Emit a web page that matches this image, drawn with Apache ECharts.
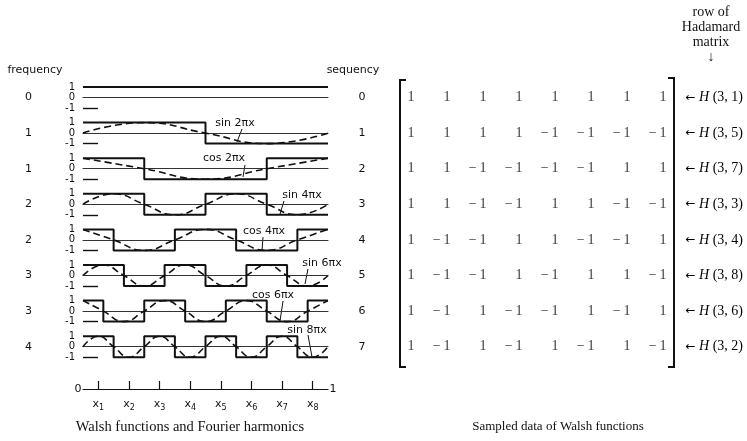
<!DOCTYPE html>
<html>
<head>
<meta charset="utf-8">
<script src="https://cdn.jsdelivr.net/npm/echarts@6/dist/echarts.min.js"></script>
<style>
html, body { margin: 0; padding: 0; background: #fff; }
#main { width: 747px; height: 441px; }
</style>
</head>
<body>
<div id="main"></div>
<script>
// row labels
var freqLabels = ['0', '1', '1', '2', '2', '3', '3', '4'];
var seqLabels = ['0', '1', '2', '3', '4', '5', '6', '7'];

// square waves: switch points and levels (last level repeated at x = 1)
var stepX = [
  [0, 1],
  [0, 0.5, 1],
  [0, 0.25, 0.75, 1],
  [0, 0.25, 0.5, 0.75, 1],
  [0, 0.125, 0.375, 0.625, 0.875, 1],
  [0, 0.167, 0.333, 0.5, 0.667, 0.833, 1],
  [0, 0.083, 0.25, 0.417, 0.583, 0.75, 0.917, 1],
  [0, 0.125, 0.25, 0.375, 0.5, 0.625, 0.75, 0.875, 1]
];
var stepY = [
  [1, 1],
  [1, -1, -1],
  [1, -1, 1, 1],
  [1, -1, 1, -1, -1],
  [1, -1, 1, -1, 1, 1],
  [1, -1, 1, -1, 1, -1, -1],
  [1, -1, 1, -1, 1, -1, 1, 1],
  [1, -1, 1, -1, 1, -1, 1, -1, -1]
];

// dashed harmonics, read at quarter periods
var waveX = [
  [],
  [0, 0.25, 0.5, 0.75, 1],
  [0, 0.25, 0.5, 0.75, 1],
  [0, 0.125, 0.25, 0.375, 0.5, 0.625, 0.75, 0.875, 1],
  [0, 0.125, 0.25, 0.375, 0.5, 0.625, 0.75, 0.875, 1],
  [0, 0.083, 0.167, 0.25, 0.333, 0.417, 0.5, 0.583, 0.667, 0.75, 0.833, 0.917, 1],
  [0, 0.083, 0.167, 0.25, 0.333, 0.417, 0.5, 0.583, 0.667, 0.75, 0.833, 0.917, 1],
  [0, 0.0625, 0.125, 0.1875, 0.25, 0.3125, 0.375, 0.4375, 0.5, 0.5625, 0.625, 0.6875, 0.75, 0.8125, 0.875, 0.9375, 1]
];
var waveY = [
  [],
  [0, 1, 0, -1, 0],
  [1, 0, -1, 0, 1],
  [0, 1, 0, -1, 0, 1, 0, -1, 0],
  [1, 0, -1, 0, 1, 0, -1, 0, 1],
  [0, 1, 0, -1, 0, 1, 0, -1, 0, 1, 0, -1, 0],
  [1, 0, -1, 0, 1, 0, -1, 0, 1, 0, -1, 0, 1],
  [0, 1, 0, -1, 0, 1, 0, -1, 0, 1, 0, -1, 0, 1, 0, -1, 0]
];

// sample points x1..x8
var sampleTicks = [0.0625, 0.1875, 0.3125, 0.4375, 0.5625, 0.6875, 0.8125, 0.9375];

// sampled data (rows of the Hadamard matrix, sequency order)
var hadamard = [
  [1, 1, 1, 1, 1, 1, 1, 1],
  [1, 1, 1, 1, -1, -1, -1, -1],
  [1, 1, -1, -1, -1, -1, 1, 1],
  [1, 1, -1, -1, 1, 1, -1, -1],
  [1, -1, -1, 1, 1, -1, -1, 1],
  [1, -1, -1, 1, -1, 1, 1, -1],
  [1, -1, 1, -1, -1, 1, -1, 1],
  [1, -1, 1, -1, 1, -1, 1, -1]
];
var hadamardRow = ['1', '5', '7', '3', '4', '8', '6', '2'];
var colNames = ['1', '2', '3', '4', '5', '6', '7', '8'];

var ink = '#111';
var sans = 'DejaVu Sans';
var serif = 'Liberation Serif';
var rowTop0 = 87, rowStep = 35.6, rowH = 21;

var grids = [], xAxes = [], yAxes = [], series = [];

for (var k = 0; k < 8; k++) {
  grids.push({ left: 83, width: 245, top: rowTop0 + k * rowStep, height: rowH });
  xAxes.push({
    type: 'value', gridIndex: k, min: 0, max: 1,
    axisLine: { onZero: true, lineStyle: { color: '#333', width: 1.1 } },
    axisTick: { show: false }, axisLabel: { show: false }, splitLine: { show: false }
  });
  yAxes.push({
    type: 'value', gridIndex: k, min: -1, max: 1, interval: 1,
    axisLine: { show: false },
    axisTick: { show: true, inside: true, length: 15, customValues: [-1], lineStyle: { color: ink, width: 1.4 } },
    axisLabel: { fontFamily: sans, fontSize: 10, color: '#111', margin: 8 },
    splitLine: { show: false },
    name: freqLabels[k], nameLocation: 'middle', nameRotate: 0, nameGap: 51,
    nameTextStyle: { fontFamily: sans, fontSize: 11, color: '#111' }
  });
  var sd = [];
  for (var i = 0; i < stepX[k].length; i++) sd.push([stepX[k][i], stepY[k][i]]);
  series.push({
    type: 'line', xAxisIndex: k, yAxisIndex: k, data: sd, step: 'end',
    symbol: 'none', clip: false, silent: true,
    lineStyle: { color: ink, width: 2 }
  });
  if (waveX[k].length) {
    var wd = [];
    for (var j = 0; j < waveX[k].length; j++) wd.push([waveX[k][j], waveY[k][j]]);
    series.push({
      type: 'line', xAxisIndex: k, yAxisIndex: k, data: wd, smooth: 0.5,
      symbol: 'none', clip: false, silent: true,
      lineStyle: { color: ink, width: 1.6, type: [7, 4] }
    });
  }
}

// bottom sample axis
grids.push({ left: 83, width: 245, top: 379, height: 10 });
xAxes.push({
  type: 'value', gridIndex: 8, min: 0, max: 1, position: 'bottom',
  axisLine: { lineStyle: { color: ink, width: 1.2 } },
  axisTick: { show: true, inside: true, length: 8, customValues: sampleTicks, lineStyle: { color: ink, width: 1.2 } },
  axisLabel: {
    customValues: sampleTicks, margin: 7, color: '#111',
    formatter: function (v) {
      var n = sampleTicks.indexOf(v) + 1;
      return '{x|x}{s|' + n + '}';
    },
    rich: {
      x: { fontFamily: sans, fontSize: 11, color: '#111' },
      s: { fontFamily: sans, fontSize: 8, color: '#111', padding: [8, 0, 0, 0] }
    }
  },
  splitLine: { show: false }
});
yAxes.push({ type: 'value', gridIndex: 8, min: 0, max: 1, show: false });

// matrix of sampled values
grids.push({ left: 396.5, width: 288, top: rowTop0 + rowH / 2 - rowStep / 2, height: rowStep * 8 });
xAxes.push({ type: 'category', gridIndex: 9, data: colNames, show: false });
yAxes.push({
  type: 'category', gridIndex: 9, data: seqLabels, inverse: true, position: 'left',
  axisLine: { show: false }, axisTick: { show: false },
  axisLabel: { fontFamily: sans, fontSize: 11, color: '#111', margin: 31 }
});
yAxes.push({
  type: 'category', gridIndex: 9, data: hadamardRow, inverse: true, position: 'right',
  axisLine: { show: false }, axisTick: { show: false },
  axisLabel: {
    margin: 1, color: '#000',
    formatter: function (v) { return '{a|\u2190} {h|H} (3, ' + v + ')'; },
    rich: {
      a: { fontFamily: sans, fontSize: 12, color: '#000' },
      h: { fontFamily: serif, fontSize: 14, fontStyle: 'italic', color: '#000' }
    },
    fontFamily: serif, fontSize: 14
  }
});
var md = [];
for (var r = 0; r < hadamard.length; r++) {
  for (var c = 0; c < hadamard[r].length; c++) md.push([c, r, hadamard[r][c]]);
}
series.push({
  type: 'scatter', xAxisIndex: 9, yAxisIndex: 9, data: md, symbolSize: 0, silent: true,
  label: {
    show: true, position: 'inside', align: 'right', verticalAlign: 'middle',
    fontFamily: serif, fontSize: 14, color: '#000',
    formatter: function (p) { return p.value[2] < 0 ? '\u2212\u20091' : '1'; }
  }
});

function txt(x, y, s, opt) {
  opt = opt || {};
  return {
    type: 'text', x: x, y: y, silent: true,
    style: {
      text: s, align: opt.align || 'center', verticalAlign: 'middle',
      fontFamily: opt.font || sans, fontSize: opt.size || 11,
      fill: '#111', lineHeight: opt.lh || 14
    }
  };
}
function seg(pts, w) {
  return { type: 'polyline', silent: true, shape: { points: pts }, style: { stroke: ink, lineWidth: w || 1, fill: null } };
}

var graphics = [
  txt(35, 70, 'frequency'),
  txt(353, 70, 'sequency'),
  txt(711, 35, 'row of\nHadamard\nmatrix\n\u2193', { font: serif, size: 14, lh: 15 }),
  txt(78, 389, '0'),
  txt(333, 389, '1'),
  txt(190, 427, 'Walsh functions and Fourier harmonics', { font: serif, size: 14.5 }),
  txt(558, 427, 'Sampled data of Walsh functions', { font: serif, size: 13 }),
  // brackets
  seg([[406, 80], [400, 80], [400, 367], [406, 367]], 2),
  seg([[668, 78], [674, 78], [674, 367], [668, 367]], 2),
  // harmonic names and leaders
  txt(235, 123, 'sin 2\u03c0x'), seg([[242, 129], [237, 142]]),
  txt(224, 158, 'cos 2\u03c0x'), seg([[245, 165], [243, 177]]),
  txt(302, 195, 'sin 4\u03c0x'), seg([[284, 201], [280, 214]]),
  txt(264, 231, 'cos 4\u03c0x'), seg([[263, 237], [262, 251]]),
  txt(322, 263, 'sin 6\u03c0x'), seg([[308, 269], [305, 284]]),
  txt(273, 295, 'cos 6\u03c0x'), seg([[283, 301], [280, 321]]),
  txt(307, 330, 'sin 8\u03c0x'), seg([[308, 335], [312, 357]])
];

var myChart = echarts.init(document.getElementById('main'));
myChart.setOption({
  animation: false,
  backgroundColor: '#fff',
  grid: grids,
  xAxis: xAxes,
  yAxis: yAxes,
  series: series,
  graphic: graphics
});
</script>
</body>
</html>
